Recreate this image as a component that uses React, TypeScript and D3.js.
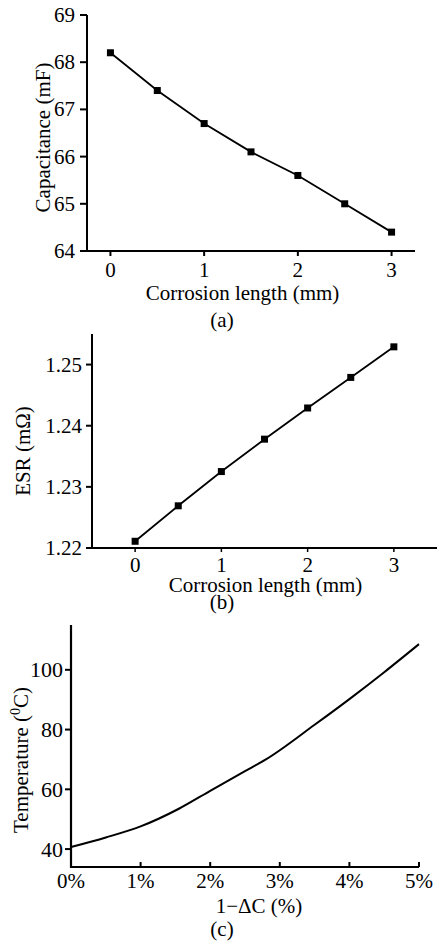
import React from "react";
import * as d3 from "d3";

// Panel (a)
const corrosionA = [0, 0.5, 1, 1.5, 2, 2.5, 3];
const capacitance = [68.2, 67.4, 66.7, 66.1, 65.6, 65.0, 64.4];
const capTicks = [64, 65, 66, 67, 68, 69];
const corrTicks = [0, 1, 2, 3];

// Panel (b)
const corrosionB = [0, 0.5, 1, 1.5, 2, 2.5, 3];
const esr = [1.2211, 1.2269, 1.2325, 1.2378, 1.2429, 1.2479, 1.2529];
const esrTicks = [1.22, 1.23, 1.24, 1.25];

// Panel (c)
const deltaC = [0, 0.5, 1, 1.55, 2, 2.5, 2.8, 3.5, 4, 4.5, 5];
const temperature = [40.7, 43.9, 47.6, 53.5, 59.5, 66.1, 70.0, 81.6, 90.2, 99.2, 108.6];
const tempTicks = [40, 60, 80, 100];
const pctTicks = [0, 1, 2, 3, 4, 5];

const FONT = "'Liberation Serif', 'Times New Roman', serif";

export default function App() {
  // scales (a)
  const xa = d3.scaleLinear().domain([-0.25, 3.25]).range([87, 415]);
  const ya = d3.scaleLinear().domain([64, 69]).range([251, 15]);
  // scales (b)
  const xb = d3.scaleLinear().domain([-0.5, 3.5]).range([92, 437]);
  const yb = d3.scaleLinear().domain([1.22, 1.255]).range([548, 334]);
  // scales (c)
  const xc = d3.scaleLinear().domain([0, 5]).range([71, 419]);
  const yc = d3.scaleLinear().domain([34, 115]).range([867, 625]);

  const lineA = d3
    .line<number>()
    .x((_, i) => xa(corrosionA[i]))
    .y((d) => ya(d));
  const lineB = d3
    .line<number>()
    .x((_, i) => xb(corrosionB[i]))
    .y((d) => yb(d));
  const lineC = d3
    .line<number>()
    .x((_, i) => xc(deltaC[i]))
    .y((d) => yc(d))
    .curve(d3.curveMonotoneX);

  const ms = 7;

  return (
    <svg
      width={438}
      height={943}
      style={{ position: "absolute", left: 0, top: 0, background: "#fff" }}
      fontFamily={FONT}
      fill="#000"
    >
      <rect x={0} y={0} width={438} height={943} fill="#fff" />
      {/* ---------- Panel (a) ---------- */}
      <g>
        <line x1={xa.range()[0]} x2={xa.range()[0]} y1={ya.range()[1]} y2={ya.range()[0] + 1} stroke="#000" strokeWidth={2} />
        <line x1={xa.range()[0]} x2={xa.range()[1]} y1={ya.range()[0]} y2={ya.range()[0]} stroke="#000" strokeWidth={2} />
        {capTicks.map((t) => (
          <g key={"ya" + t}>
            <line x1={xa.range()[0] - 7} x2={xa.range()[0]} y1={ya(t)} y2={ya(t)} stroke="#000" strokeWidth={2} />
            <text x={75} y={ya(t) + 7} textAnchor="end" fontSize={21}>
              {t}
            </text>
          </g>
        ))}
        {corrTicks.map((t) => (
          <g key={"xa" + t}>
            <line x1={xa(t)} x2={xa(t)} y1={ya.range()[0]} y2={ya.range()[0] + 5} stroke="#000" strokeWidth={2} />
            <text x={xa(t)} y={277} textAnchor="middle" fontSize={21}>
              {t}
            </text>
          </g>
        ))}
        <path d={lineA(capacitance) || ""} fill="none" stroke="#000" strokeWidth={1.8} />
        {capacitance.map((v, i) => (
          <rect key={"ma" + i} x={xa(corrosionA[i]) - ms / 2} y={ya(v) - ms / 2} width={ms} height={ms} fill="#000" />
        ))}
        <text transform="translate(50,137.5) rotate(-90)" textAnchor="middle" fontSize={21}>
          Capacitance (mF)
        </text>
        <text x={242.5} y={300} textAnchor="middle" fontSize={21}>
          Corrosion length (mm)
        </text>
        <text x={222} y={327} textAnchor="middle" fontSize={21}>
          (a)
        </text>
      </g>

      {/* ---------- Panel (b) ---------- */}
      <g>
        <line x1={xb.range()[0]} x2={xb.range()[0]} y1={yb.range()[1]} y2={yb.range()[0] + 1} stroke="#000" strokeWidth={2} />
        <line x1={xb.range()[0]} x2={xb.range()[1]} y1={yb.range()[0]} y2={yb.range()[0]} stroke="#000" strokeWidth={2} />
        {esrTicks.map((t) => (
          <g key={"yb" + t}>
            <line x1={xb.range()[0] - 6} x2={xb.range()[0]} y1={yb(t)} y2={yb(t)} stroke="#000" strokeWidth={2} />
            <text x={82} y={yb(t) + 7} textAnchor="end" fontSize={21}>
              {d3.format(".2f")(t)}
            </text>
          </g>
        ))}
        {corrTicks.map((t) => (
          <g key={"xb" + t}>
            <line x1={xb(t)} x2={xb(t)} y1={yb.range()[0]} y2={yb.range()[0] + 4} stroke="#000" strokeWidth={1.5} />
            <text x={xb(t)} y={572} textAnchor="middle" fontSize={21}>
              {t}
            </text>
          </g>
        ))}
        <path d={lineB(esr) || ""} fill="none" stroke="#000" strokeWidth={1.8} />
        {esr.map((v, i) => (
          <rect key={"mb" + i} x={xb(corrosionB[i]) - 3.5} y={yb(v) - 3.5} width={7} height={7} fill="#000" />
        ))}
        <text transform="translate(30,451) rotate(-90)" textAnchor="middle" fontSize={21}>
          ESR (mΩ)
        </text>
        <text x={265.5} y={592} textAnchor="middle" fontSize={21}>
          Corrosion length (mm)
        </text>
        <text x={222} y={609} textAnchor="middle" fontSize={21}>
          (b)
        </text>
      </g>

      {/* ---------- Panel (c) ---------- */}
      <g>
        <line x1={xc.range()[0]} x2={xc.range()[0]} y1={yc.range()[1]} y2={yc.range()[0] + 1} stroke="#000" strokeWidth={2.2} />
        <line x1={xc.range()[0]} x2={xc.range()[1]} y1={yc.range()[0]} y2={yc.range()[0]} stroke="#000" strokeWidth={2.2} />
        {tempTicks.map((t) => (
          <g key={"yc" + t}>
            <line x1={xc.range()[0] - 6} x2={xc.range()[0]} y1={yc(t)} y2={yc(t)} stroke="#000" strokeWidth={2} />
            <text x={63} y={yc(t) + 7.5} textAnchor="end" fontSize={22}>
              {t}
            </text>
          </g>
        ))}
        {pctTicks.map((t) => (
          <g key={"xc" + t}>
            <line x1={xc(t)} x2={xc(t)} y1={yc.range()[0]} y2={yc.range()[0] - 5} stroke="#000" strokeWidth={2} />
            <text x={xc(t)} y={888} textAnchor="middle" fontSize={21}>
              {t + "%"}
            </text>
          </g>
        ))}
        <path d={lineC(temperature) || ""} fill="none" stroke="#000" strokeWidth={2} />
        <text transform="translate(28,760) rotate(-90)" textAnchor="middle" fontSize={21}>
          Temperature (<tspan fontSize={14} dy={-8}>0</tspan>
          <tspan dy={8}>C)</tspan>
        </text>
        <text x={259} y={913} textAnchor="middle" fontSize={21}>
          1−ΔC (%)
        </text>
        <text x={222} y={936} textAnchor="middle" fontSize={21}>
          (c)
        </text>
      </g>
    </svg>
  );
}
